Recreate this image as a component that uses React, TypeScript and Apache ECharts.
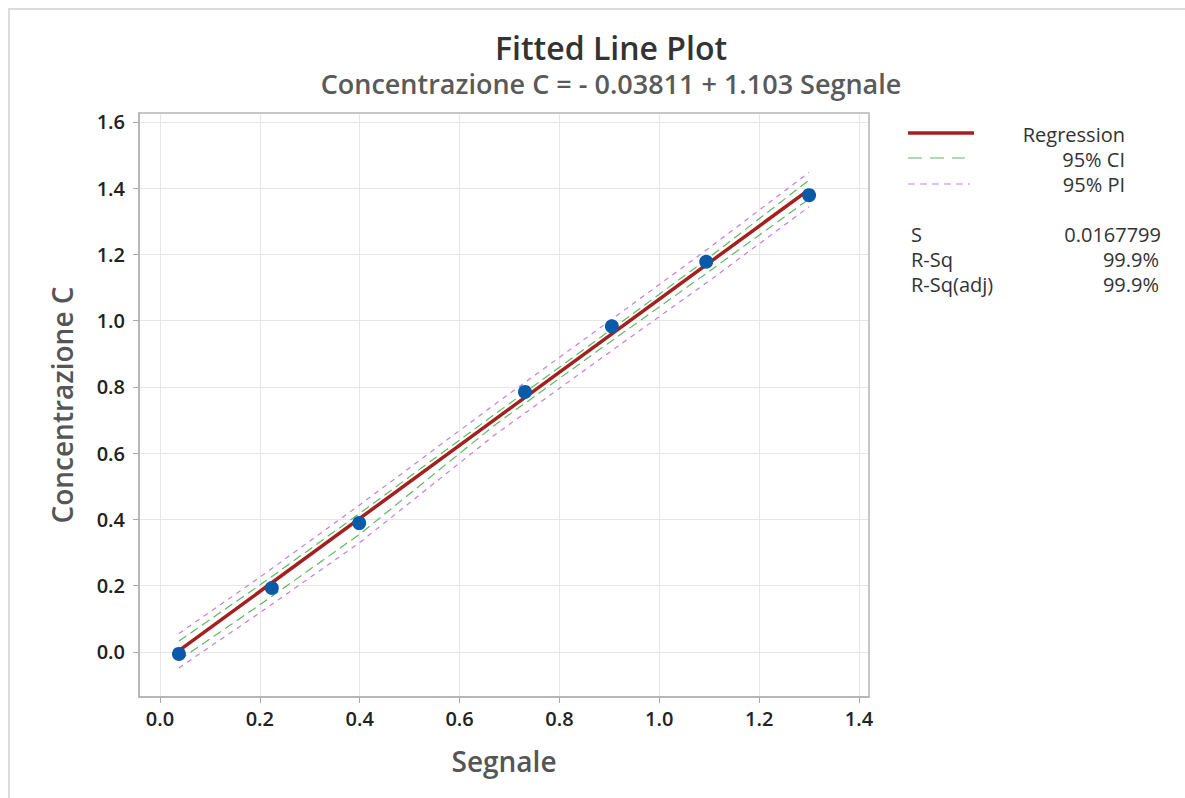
import React, { useEffect, useRef } from "react";
import * as echarts from "echarts";

const segnale = [0.038, 0.224, 0.399, 0.731, 0.905, 1.094, 1.3];
const concentrazione = [-0.006, 0.193, 0.389, 0.785, 0.983, 1.178, 1.379];

const fitX = [0.038, 1.3];
const fitY = [0.0038, 1.3958];

const bandX = [0.038, 0.2, 0.4, 0.67, 0.9, 1.1, 1.3];
const ciUpper = [0.0327, 0.2018, 0.4184, 0.7171, 0.9689, 1.1909, 1.4244];
const ciLower = [-0.0251, 0.1422, 0.3554, 0.6845, 0.9343, 1.1491, 1.3672];
const piUpper = [0.0557, 0.2256, 0.4438, 0.7469, 0.9989, 1.2196, 1.4477];
const piLower = [-0.0481, 0.1184, 0.33, 0.6547, 0.9043, 1.1204, 1.3439];

const xTicks = [0, 0.2, 0.4, 0.6, 0.8, 1.0, 1.2, 1.4];
const yTicks = [0, 0.2, 0.4, 0.6, 0.8, 1.0, 1.2, 1.4, 1.6];

const FONT = "'Open Sans', 'Noto Sans', sans-serif";

const zip = (xs: number[], ys: number[]) => xs.map((x, i) => [x, ys[i]]);

export default function App() {
  const ref = useRef<HTMLDivElement>(null);
  useEffect(() => {
    if (!ref.current) return;
    const chart = echarts.init(ref.current, undefined, { renderer: "svg" });
    const bandLine = (name: string, data: number[][], color: string, dash: number[]) => ({
      name,
      type: "line",
      data,
      symbol: "none",
      smooth: false,
      lineStyle: { color, width: 1.2, type: dash },
      z: 2,
    });
    const legendFont = `500 20px ${FONT}`;
    const txt = (x: number, y: number, text: string, align: string) => ({
      type: "text",
      x,
      y,
      style: { text, align, verticalAlign: "middle", font: legendFont, lineHeight: 20, fill: "#333" },
    });
    chart.setOption({
      animation: false,
      backgroundColor: "#ffffff",
      title: [
        {
          text: "Fitted Line Plot",
          left: 606,
          top: 26,
          textAlign: "center",
          textStyle: { fontFamily: FONT, fontSize: 32, fontWeight: 600, color: "#333", lineHeight: 32 },
        },
        {
          text: "Concentrazione C = - 0.03811 + 1.103 Segnale",
          left: 606,
          top: 65,
          textAlign: "center",
          textStyle: { fontFamily: FONT, fontSize: 27, fontWeight: 600, color: "#5a5a5a", lineHeight: 27 },
        },
      ],
      grid: { left: 139, top: 113, width: 730, height: 584, containLabel: false, show: false },
      xAxis: {
        type: "value",
        min: -0.042,
        max: 1.42,
        name: "Segnale",
        nameLocation: "middle",
        nameGap: 50,
        nameTextStyle: { fontFamily: FONT, fontSize: 28, fontWeight: 600, color: "#555" },
        axisLine: { show: true, onZero: false, lineStyle: { color: "#aaa", width: 1.5 } },
        axisTick: { show: true, length: 6, lineStyle: { color: "#aaa" }, customValues: xTicks },
        axisLabel: {
          fontFamily: FONT,
          fontSize: 20,
          fontWeight: 600,
          color: "#222",
          margin: 11,
          customValues: xTicks,
          formatter: (v: number) => v.toFixed(1),
        },
        splitLine: { show: true, lineStyle: { color: "#e6e6e6", width: 1 } },
      },
      yAxis: {
        type: "value",
        min: -0.136,
        max: 1.627,
        name: "Concentrazione C",
        nameLocation: "middle",
        nameGap: 63,
        nameTextStyle: { fontFamily: FONT, fontSize: 28, fontWeight: 600, color: "#555" },
        axisLine: { show: true, onZero: false, lineStyle: { color: "#aaa", width: 1.5 } },
        axisTick: { show: true, length: 6, lineStyle: { color: "#aaa" }, customValues: yTicks },
        axisLabel: {
          fontFamily: FONT,
          fontSize: 20,
          fontWeight: 600,
          color: "#222",
          margin: 14,
          customValues: yTicks,
          formatter: (v: number) => v.toFixed(1),
        },
        splitLine: { show: true, lineStyle: { color: "#e6e6e6", width: 1 } },
      },
      series: [
        {
          type: "line",
          data: [],
          markArea: {
            silent: true,
            itemStyle: { color: "rgba(0,0,0,0)", borderColor: "#b5b5b5", borderWidth: 1.5 },
            data: [[{ coord: [-0.042, -0.136] }, { coord: [1.42, 1.627] }]],
          },
        },
        bandLine("95% PI upper", zip(bandX, piUpper), "#c77ddf", [5, 5]),
        bandLine("95% PI lower", zip(bandX, piLower), "#c77ddf", [5, 5]),
        bandLine("95% CI upper", zip(bandX, ciUpper), "#5fb865", [9, 5]),
        bandLine("95% CI lower", zip(bandX, ciLower), "#5fb865", [9, 5]),
        {
          name: "Regression",
          type: "line",
          data: zip(fitX, fitY),
          symbol: "none",
          lineStyle: { color: "#a3201f", width: 3.5 },
          z: 3,
        },
        {
          name: "Data",
          type: "scatter",
          data: zip(segnale, concentrazione),
          symbol: "circle",
          symbolSize: 14,
          itemStyle: { color: "#0a5aa8", opacity: 1 },
          z: 4,
        },
      ],
      graphic: [
        { type: "line", shape: { x1: 8, y1: 9, x2: 1185, y2: 9 }, style: { stroke: "#dcdcdc", lineWidth: 2 } },
        { type: "line", shape: { x1: 9, y1: 8, x2: 9, y2: 798 }, style: { stroke: "#dcdcdc", lineWidth: 2 } },
        { type: "line", shape: { x1: 908, y1: 133, x2: 974, y2: 133 }, style: { stroke: "#a3201f", lineWidth: 3.5 } },
        { type: "line", shape: { x1: 908, y1: 158, x2: 965, y2: 158 }, style: { stroke: "#5fb865", lineWidth: 1.2, lineDash: [14, 8] } },
        { type: "line", shape: { x1: 908, y1: 184, x2: 970, y2: 184 }, style: { stroke: "#c77ddf", lineWidth: 1.2, lineDash: [7, 5] } },
        txt(1125, 134, "Regression", "right"),
        txt(1125, 159, "95% CI", "right"),
        txt(1125, 184, "95% PI", "right"),
        txt(911, 234, "S", "left"),
        txt(911, 259, "R-Sq", "left"),
        txt(911, 284, "R-Sq(adj)", "left"),
        txt(1161, 234, "0.0167799", "right"),
        txt(1159, 259, "99.9%", "right"),
        txt(1159, 284, "99.9%", "right"),
      ],
    });
    return () => chart.dispose();
  }, []);
  return (
    <div
      ref={ref}
      style={{ position: "fixed", left: 0, top: 0, width: 1185, height: 798, background: "#fff" }}
    />
  );
}
